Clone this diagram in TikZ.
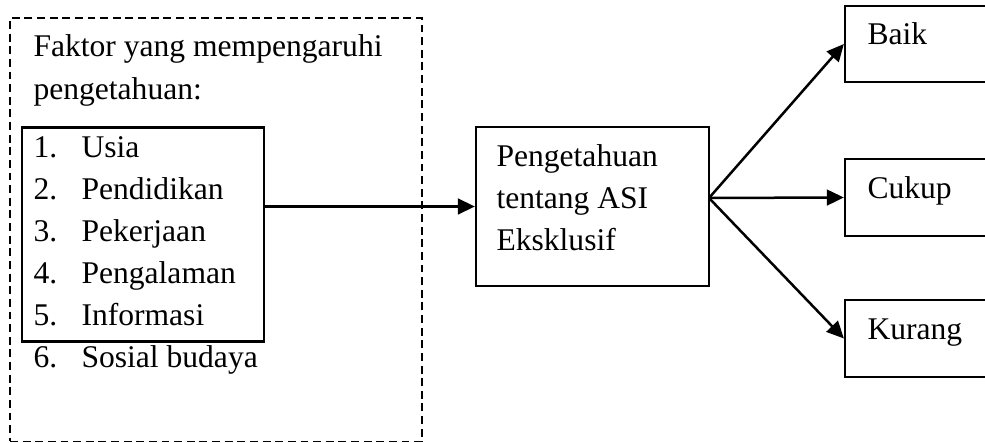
\documentclass[tikz,border=0pt]{standalone}
\usepackage{fontspec}
\setmainfont{Liberation Serif}
\usetikzlibrary{fit,arrows.meta}
\tikzset{box/.style={draw, line width=0.85pt, inner sep=0pt}, dashbox/.style={draw, line width=0.65pt, dash pattern=on 3pt off 1.8pt, inner sep=0pt}, txt/.style={inner sep=0pt, anchor=base west, font=\fontsize{12}{16}\selectfont}, arr/.style={line width=0.95pt, -{Triangle[length=6.5pt, width=6pt]}}}

\begin{document}
\begin{tikzpicture}[x=0.38pt, y=-0.38pt]
  \useasboundingbox (0,0) rectangle (985,443);
  \node[dashbox, fit={(10,18) (422,441.5)}] (faktor) {};
  \node[box, fit={(22,127.5) (264,341.5)}] (daftar) {};
  \node[box, fit={(476,127) (709,286)}] (tahu) {};
  \node[box, fit={(845,6) (1000,82)}] (baik) {};
  \node[box, fit={(845,159) (1000,236)}] (cukup) {};
  \node[box, fit={(845,300) (1000,377)}] (kurang) {};

  \node[txt] (judul1) at (33,57) {Faktor yang mempengaruhi};
  \node[txt] (judul2) at (33,100) {pengetahuan:};
  \foreach \i/\t in {1/Usia, 2/Pendidikan, 3/Pekerjaan, 4/Pengalaman, 5/Informasi, 6/Sosial budaya} {
    \node[txt] (no\i) at (33,116+42*\i) {\i.};
    \node[txt] (isi\i) at (81,116+42*\i) {\t};
  }

  \node[txt] (tahu1) at (496,167) {Pengetahuan};
  \node[txt] (tahu2) at (496,209) {tentang ASI};
  \node[txt] (tahu3) at (496,251) {Eksklusif};

  \node[txt] (lbaik) at (867,45) {Baik};
  \node[txt] (lcukup) at (867,199) {Cukup};
  \node[txt] (lkurang) at (867,340) {Kurang};

  \coordinate (cabang) at (709,198);
  \draw[arr] (daftar.east |- tahu.west) -- (tahu.west);
  \draw[arr] (cabang) -- (baik.west);
  \draw[arr] (cabang) -- (cukup.west);
  \draw[arr] (cabang) -- (kurang.west);
\end{tikzpicture}
\end{document}
